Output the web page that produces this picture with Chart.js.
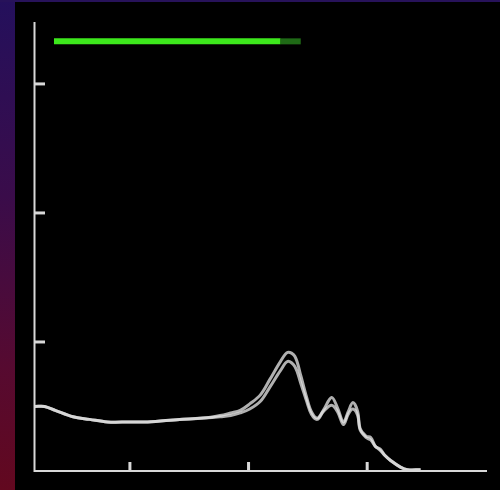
<!DOCTYPE html>
<html lang="en">
<head>
  <meta charset="UTF-8">
  <title>Spectrum</title>
  <script src="https://cdn.jsdelivr.net/npm/chart.js"></script>
  <style>
    html, body {
      margin: 0;
      padding: 0;
      background: #000;
      overflow: hidden;
    }
    .wrap {
      position: relative;
      width: 500px;
      height: 490px;
    }
    .edge-left {
      position: absolute;
      left: 0; top: 0;
      width: 15px; height: 490px;
      background: linear-gradient(#24105c, #3a0c4a 40%, #560a30 75%, #62081f);
    }
    .edge-top {
      position: absolute;
      left: 0; top: 0;
      width: 500px; height: 2px;
      background: #27125a;
    }
  </style>
</head>
<body>
  <div class="wrap">
    <canvas id="spectrum" width="500" height="490"></canvas>
    <div class="edge-left"></div>
    <div class="edge-top"></div>
  </div>

  <script>
    // wavelength (nm) and the two traces
    const wavelengths = [320, 328, 337, 352, 366, 381, 400, 415, 442, 462,
                         476, 485, 493, 501, 510, 518, 527, 533, 539, 544,
                         549, 553, 558, 563, 570, 575, 580, 584, 588, 592,
                         594, 599, 603, 607, 611, 615, 620, 628, 634, 645];
    const upper = [0.50, 0.50, 0.47, 0.42, 0.40, 0.38, 0.38, 0.38, 0.40, 0.41,
                   0.43, 0.45, 0.47, 0.52, 0.59, 0.71, 0.85, 0.92, 0.89, 0.74,
                   0.57, 0.46, 0.41, 0.47, 0.57, 0.49, 0.38, 0.46, 0.53, 0.46,
                   0.33, 0.27, 0.26, 0.19, 0.17, 0.12, 0.08, 0.03, 0.01, 0.01];
    const lower = [0.50, 0.50, 0.47, 0.42, 0.40, 0.38, 0.38, 0.38, 0.40, 0.41,
                   0.42, 0.43, 0.45, 0.48, 0.54, 0.65, 0.78, 0.85, 0.81, 0.68,
                   0.54, 0.44, 0.40, 0.46, 0.51, 0.46, 0.36, 0.44, 0.48, 0.43,
                   0.32, 0.26, 0.24, 0.19, 0.16, 0.12, 0.08, 0.03, 0.01, 0.01];

    const xTicks = [400, 500, 600];
    const yTicks = [1, 2, 3];

    // green bar at the top (start, bright end, dark end) and its height
    const barX = [336, 527, 544];
    const barY = 3.33;

    const toPoints = (ys) => wavelengths.map((x, i) => ({ x: x, y: ys[i] }));

    // draws the white axes with inward ticks
    const axesPlugin = {
      id: 'axes',
      afterDatasetsDraw(chart) {
        const { ctx, chartArea: a, scales } = chart;
        ctx.save();
        ctx.strokeStyle = '#d8d8d8';
        ctx.lineWidth = 2;
        ctx.beginPath();
        ctx.moveTo(a.left - 0.5, a.top);
        ctx.lineTo(a.left - 0.5, a.bottom);
        ctx.lineTo(a.right, a.bottom);
        ctx.stroke();

        ctx.lineWidth = 3;
        yTicks.forEach(v => {
          const y = scales.y.getPixelForValue(v);
          ctx.beginPath();
          ctx.moveTo(a.left, y);
          ctx.lineTo(a.left + 10, y);
          ctx.stroke();
        });
        xTicks.forEach(v => {
          const x = scales.x.getPixelForValue(v);
          ctx.beginPath();
          ctx.moveTo(x, a.bottom);
          ctx.lineTo(x, a.bottom - 9);
          ctx.stroke();
        });
        ctx.restore();
      }
    };

    const lineStyle = {
      borderColor: 'rgba(225,225,225,0.78)',
      borderWidth: 3,
      pointRadius: 0,
      tension: 0.35,
      clip: false
    };

    const ctx = document.getElementById('spectrum').getContext('2d');
    new Chart(ctx, {
      type: 'line',
      data: {
        datasets: [
          {
            data: [{ x: barX[1], y: barY }, { x: barX[2], y: barY }],
            borderColor: '#1f6a16',
            borderWidth: 6,
            pointRadius: 0,
            borderCapStyle: 'butt'
          },
          {
            data: [{ x: barX[0], y: barY }, { x: barX[1], y: barY }],
            borderColor: '#3de81c',
            borderWidth: 6,
            pointRadius: 0,
            borderCapStyle: 'butt'
          },
          Object.assign({ data: toPoints(upper) }, lineStyle),
          Object.assign({ data: toPoints(lower) }, lineStyle)
        ]
      },
      options: {
        responsive: false,
        animation: false,
        layout: { padding: { left: 35, right: 13, top: 22, bottom: 19 } },
        scales: {
          x: { type: 'linear', min: 320, max: 701, display: false },
          y: { min: 0, max: 3.48, display: false }
        },
        plugins: {
          legend: { display: false },
          tooltip: { enabled: false }
        }
      },
      plugins: [axesPlugin]
    });
  </script>
</body>
</html>
